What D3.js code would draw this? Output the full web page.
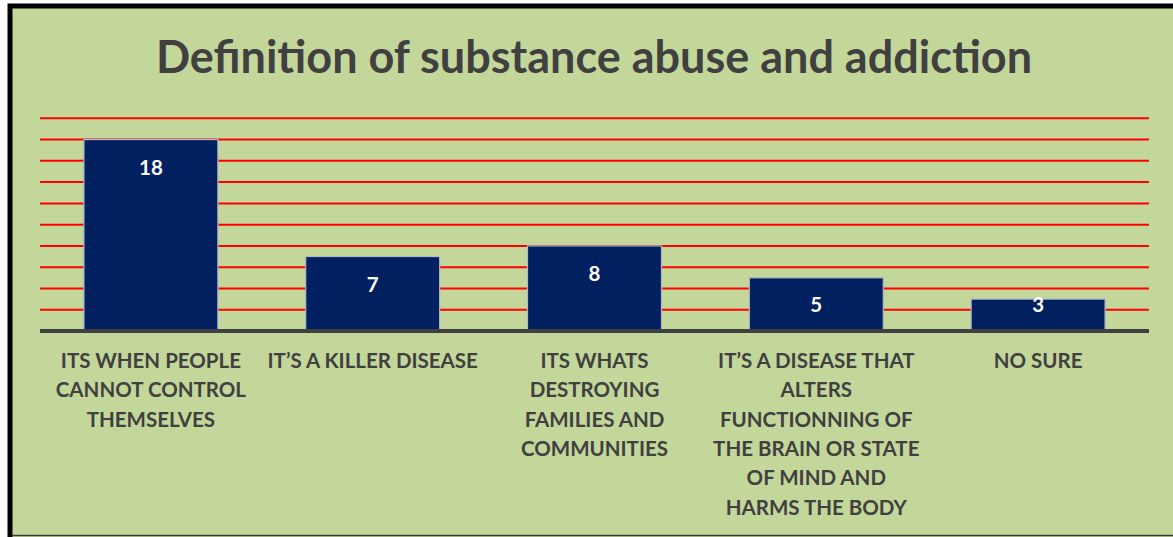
<!DOCTYPE html>
<html><head><meta charset="utf-8">
<script src="https://cdn.jsdelivr.net/npm/d3@7"></script>
<style>
html,body{margin:0;padding:0;background:#fff;}
svg{display:block;}
</style></head>
<body>
<svg id="chart" width="1173" height="537"></svg>
<script>
const title = "Definition of substance abuse and addiction";
const categories = [
  "ITS WHEN PEOPLE\nCANNOT CONTROL\nTHEMSELVES",
  "IT\u2019S A KILLER DISEASE",
  "ITS WHATS\nDESTROYING\nFAMILIES AND\nCOMMUNITIES",
  "IT\u2019S A DISEASE THAT\nALTERS\nFUNCTIONNING OF\nTHE BRAIN OR STATE\nOF MIND AND\nHARMS THE BODY",
  "NO SURE"
];
const values = [18, 7, 8, 5, 3];
const gridTicks = [2, 4, 6, 8, 10, 12, 14, 16, 18, 20];

(function() {
const svg = d3.select("#chart");
const font = "Lato, 'Open Sans', sans-serif";

// background + border
svg.append("rect").attr("x", 10).attr("y", 6).attr("width", 1180).attr("height", 545)
  .attr("fill", "#C4D79B").attr("stroke", "#000").attr("stroke-width", 5);
svg.append("line").attr("x1", 12).attr("x2", 1173).attr("y1", 535.5).attr("y2", 535.5)
  .attr("stroke", "#3a3a3a").attr("stroke-width", 1.5);

const pLeft = 40, pRight = 1149, pTop = 118.3, pBase = 331;
const x = d3.scaleBand().domain(categories).range([pLeft, pRight]).paddingInner(0.396).paddingOuter(0.198);
const y = d3.scaleLinear().domain([0, 20]).range([pBase, pTop]);

// title
svg.append("text").attr("x", 594).attr("y", 73).attr("text-anchor", "middle")
  .attr("font-family", font).attr("font-weight", 700).attr("font-size", 45)
  .attr("fill", "#404040").text(title);

// gridlines
svg.append("g").selectAll("line").data(gridTicks).join("line")
  .attr("x1", pLeft).attr("x2", pRight)
  .attr("y1", d => y(d)).attr("y2", d => y(d))
  .attr("stroke", "#FF0000").attr("stroke-width", 2);

// bars
svg.append("g").selectAll("rect").data(values).join("rect")
  .attr("x", (d, i) => x(categories[i]))
  .attr("width", x.bandwidth())
  .attr("y", d => y(d))
  .attr("height", d => y(0) - y(d))
  .attr("fill", "#002060").attr("stroke", "#AEB9CC").attr("stroke-width", 1.2);

// axis baseline
const xAxis = d3.axisBottom(x).tickSize(0).tickFormat("");
const ax = svg.append("g").attr("transform", `translate(0,${pBase})`).call(xAxis);
ax.select(".domain").attr("stroke", "#404040").attr("stroke-width", 4)
  .attr("d", `M${pLeft},0H${pRight}`);

// data labels
svg.append("g").selectAll("text").data(values).join("text")
  .attr("x", (d, i) => x(categories[i]) + x.bandwidth() / 2)
  .attr("y", d => Math.min(y(d) + 28, y(0) - 26))
  .attr("dy", "0.35em").attr("text-anchor", "middle")
  .attr("font-family", font).attr("font-weight", 700).attr("font-size", 20.5)
  .attr("fill", "#fff").text(d => d);

// category labels
const cat = svg.append("g").selectAll("text").data(categories).join("text")
  .attr("text-anchor", "middle")
  .attr("font-family", font).attr("font-weight", 700).attr("font-size", 20.5)
  .attr("fill", "#404040");
cat.each(function(d) {
  const cx = x(d) + x.bandwidth() / 2;
  d3.select(this).selectAll("tspan").data(d.split("\n")).join("tspan")
    .attr("x", cx).attr("y", (l, j) => 361 + j * 29.3).attr("dy", "0.35em").text(l => l);
});
})();
</script>
</body></html>
